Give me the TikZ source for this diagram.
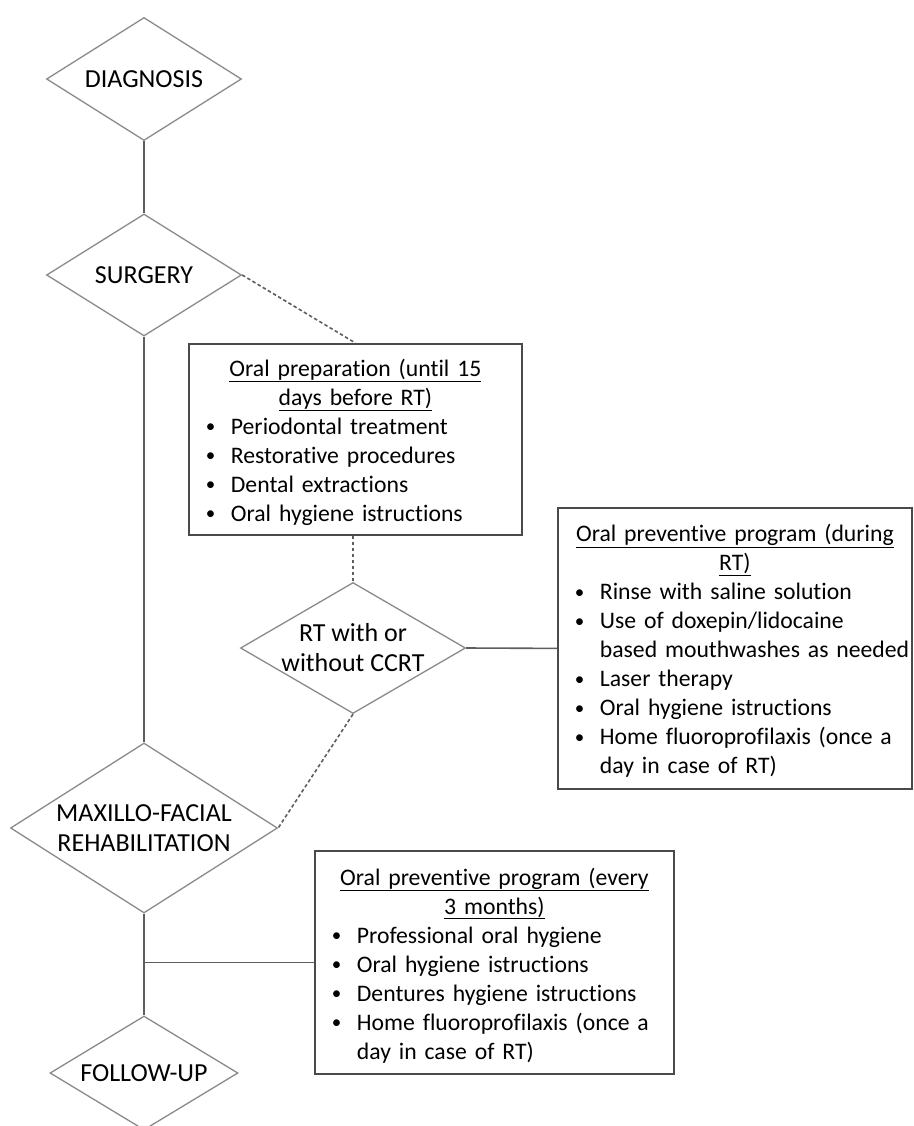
\documentclass[tikz,border=0pt]{standalone}
\usepackage{fontspec}
\setmainfont[Ligatures=NoCommon]{Carlito}
\usetikzlibrary{shapes.geometric}
\definecolor{diagray}{HTML}{8A8A8A}
\definecolor{boxgray}{HTML}{4A4A4A}
\definecolor{linegray}{HTML}{5E5E5E}
\newcommand\boxfont{\fontsize{23.7}{29}\selectfont}
\newcommand\diafont{\fontsize{26}{30}\selectfont}
\newcommand\boxtitle[1]{\makebox[\hsize]{\underline{#1}}}
\newcommand\firsttitle[1]{\noindent\rule{0pt}{23pt}\boxtitle{#1}}
\newcommand\listdot{\raisebox{1.5pt}{\fontsize{19}{19}\selectfont\textbullet}}
\newcommand\bitem[1]{\mbox{\makebox[25pt][l]{\listdot}#1}}
\newcommand\bmore[1]{\mbox{\hspace*{25pt}#1}}
\tikzset{
  decision/.style={diamond,draw=diagray,line width=1.3pt,inner sep=0pt},
  infobox/.style={rectangle,draw=boxgray,line width=1.8pt,inner xsep=17pt,inner ysep=0pt,
    align=left,anchor=north west,font=\boxfont}
}
\begin{document}
\begin{tikzpicture}[x=1pt,y=-1pt]

      \useasboundingbox (0,0) rectangle (913,1126);

      \begin{scope}[every node/.style=decision,
          every label/.style={shape=rectangle,draw=none,font=\diafont,align=center,inner sep=0pt}]
        \node[minimum width=195pt,minimum height=123pt,label=center:DIAGNOSIS] (diag) at (144,79) {};
        \node[minimum width=195pt,minimum height=122pt,label=center:SURGERY] (surg) at (144,275) {};
        \node[minimum width=225pt,minimum height=131pt,label={center:RT with or\\without CCRT}] (rt) at (353,648) {};
        \node[minimum width=267pt,minimum height=170pt,label={center:MAXILLO-FACIAL\\REHABILITATION}] (maxi) at (144,828) {};
        \node[minimum width=188pt,minimum height=114pt,label=center:FOLLOW-UP] (follow) at (144,1073) {};
      \end{scope}

      \begin{scope}[every node/.style=infobox]
        \node[text width=299pt,minimum height=191pt] (prep) at (188,343)
          {\firsttitle{Oral preparation (until 15}\\
           \boxtitle{days before RT)}\\
           \bitem{Periodontal treatment}\\
           \bitem{Restorative procedures}\\
           \bitem{Dental extractions}\\
           \bitem{Oral hygiene istructions}};
        \node[text width=320pt,minimum height=281pt] (during) at (557,507)
          {\firsttitle{Oral preventive program (during}\\
           \boxtitle{RT)}\\
           \bitem{Rinse with saline solution}\\
           \bitem{Use of doxepin/lidocaine}\\
           \bmore{based mouthwashes as needed}\\
           \bitem{Laser therapy}\\
           \bitem{Oral hygiene istructions}\\
           \bitem{Home fluoroprofilaxis (once a}\\
           \bmore{day in case of RT)}};
        \node[text width=325pt,minimum height=223pt] (after) at (314,850)
          {\firsttitle{Oral preventive program (every}\\
           \boxtitle{3 months)}\\
           \bitem{Professional oral hygiene}\\
           \bitem{Oral hygiene istructions}\\
           \bitem{Dentures hygiene istructions}\\
           \bitem{Home fluoroprofilaxis (once a}\\
           \bmore{day in case of RT)}};
      \end{scope}

      \begin{scope}[every edge/.style={draw=linegray,line width=1.6pt}]
        \path (diag) edge (surg);
        \path (surg) edge (maxi);
        \path (maxi) edge (follow);
        \path (rt.east) edge (during.west);
        \path (after.west) edge (after.west -| maxi.south);
        \path (surg.east) edge[dash pattern=on 3.5pt off 2.5pt] (prep.north);
        \path (prep.south -| rt.north) edge[dash pattern=on 3.5pt off 2.5pt] (rt.north);
        \path (rt.south) edge[dash pattern=on 3.5pt off 2.5pt] (maxi.east);
      \end{scope}

    \end{tikzpicture}
\end{document}
